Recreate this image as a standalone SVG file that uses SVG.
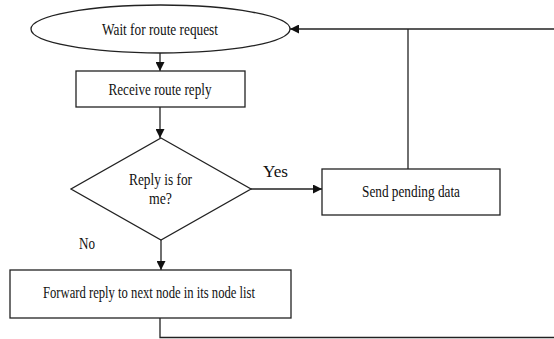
<svg xmlns="http://www.w3.org/2000/svg" width="554" height="339" viewBox="0 0 554 339">
<style>
.shape{fill:#fff;stroke:#222;stroke-width:1.3}
.line{fill:none;stroke:#222;stroke-width:1.3}
.t{font-family:"Liberation Serif","Times New Roman",serif;font-size:17px;fill:#111}
.c{text-anchor:middle}
</style>
<defs>
<marker id="arr" viewBox="0 0 10 10" refX="10" refY="5" markerWidth="9" markerHeight="9" markerUnits="userSpaceOnUse" orient="auto">
<path d="M0,0 L10,5 L0,10 z" fill="#111"/>
</marker>
</defs>
<rect width="554" height="339" fill="#fff"/>
<g id="connectors">
<line class="line" x1="160" y1="53" x2="160" y2="71" marker-end="url(#arr)"/>
<line class="line" x1="160" y1="107" x2="160" y2="138" marker-end="url(#arr)"/>
<line class="line" x1="251" y1="189" x2="322" y2="189" marker-end="url(#arr)"/>
<line class="line" x1="161" y1="240" x2="161" y2="270" marker-end="url(#arr)"/>
<polyline class="line" points="408,169 408,29"/>
<line class="line" x1="554" y1="29" x2="290" y2="29" marker-end="url(#arr)"/>
<polyline class="line" points="160,318 160,337.5 554,337.5"/>
<text class="t" x="263" y="177" textLength="25" lengthAdjust="spacingAndGlyphs">Yes</text>
<text class="t" x="79" y="249" textLength="16" lengthAdjust="spacingAndGlyphs">No</text>
</g>
<g id="start">
<ellipse class="shape" cx="160.5" cy="29" rx="129.5" ry="24"/>
<text class="t c" x="160" y="35" textLength="116" lengthAdjust="spacingAndGlyphs">Wait for route request</text>
</g>
<g id="receive">
<rect class="shape" x="76" y="71" width="169" height="36"/>
<text class="t c" x="160" y="95" textLength="103" lengthAdjust="spacingAndGlyphs">Receive route reply</text>
</g>
<g id="decision">
<polygon class="shape" points="161,138 251,189 161,240 71,189"/>
<text class="t c" x="160.5" y="185" textLength="63" lengthAdjust="spacingAndGlyphs">Reply is for</text>
<text class="t c" x="160.5" y="204" textLength="23" lengthAdjust="spacingAndGlyphs">me?</text>
</g>
<g id="send">
<rect class="shape" x="322" y="169" width="178" height="46"/>
<text class="t c" x="411" y="197" textLength="98" lengthAdjust="spacingAndGlyphs">Send pending data</text>
</g>
<g id="forward">
<rect class="shape" x="10" y="270" width="281" height="48"/>
<text class="t c" x="149" y="298" textLength="212" lengthAdjust="spacingAndGlyphs">Forward reply to next node in its node list</text>
</g>
</svg>
